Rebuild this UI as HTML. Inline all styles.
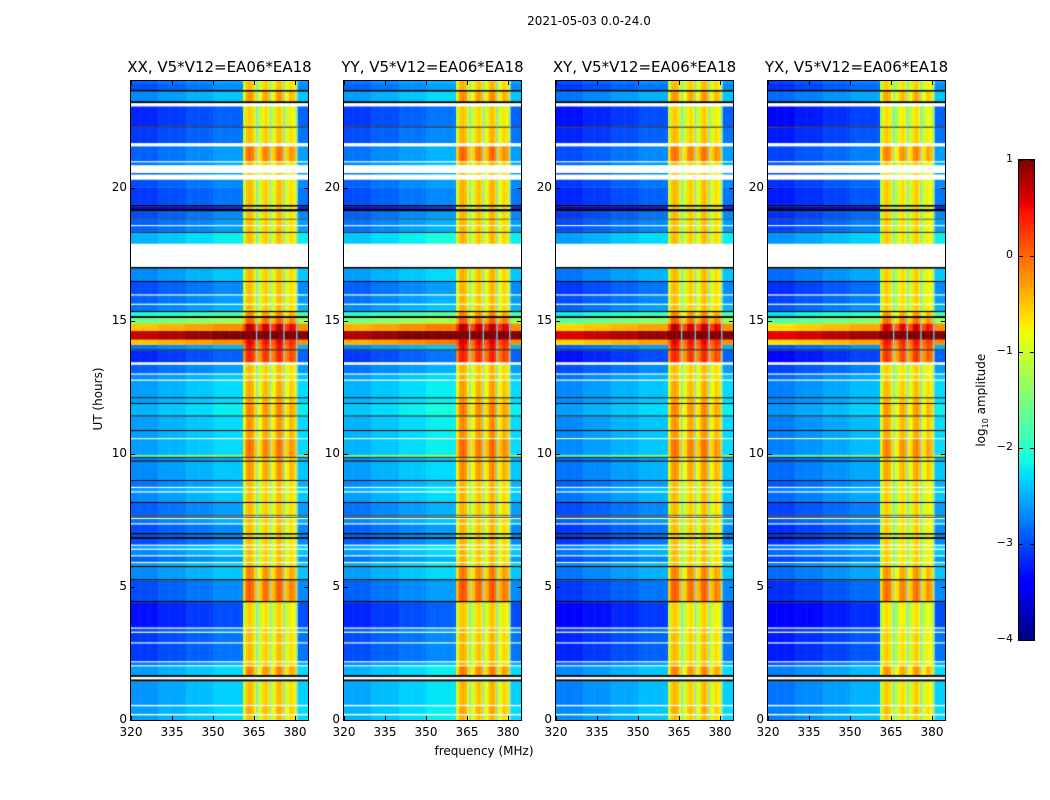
<!DOCTYPE html>
<html><head><meta charset="utf-8">
<style>
body{margin:0;background:#fff;font-family:"DejaVu Sans","Liberation Sans",sans-serif;}
#root{position:relative;width:1050px;height:800px;overflow:hidden;background:#fff;}
.t{position:absolute;font-size:12px;color:#000;white-space:nowrap;}
canvas{position:absolute;}
.frame{position:absolute;border:1px solid #000;box-sizing:border-box;}
</style></head><body>
<div id="root">
<div class="t" style="left:489px;top:14px;width:200px;text-align:center;font-size:12px;">2021-05-03 0.0-24.0</div>
<div class="t" style="left:384px;top:744px;width:200px;text-align:center;">frequency (MHz)</div>
<div class="t" style="left:48px;top:392px;width:100px;text-align:center;transform:rotate(-90deg);">UT (hours)</div>
<canvas id="cbar" width="15" height="480" style="left:1019px;top:160px;"></canvas>
<div class="frame" style="left:1018px;top:159px;width:17px;height:482px;"></div>
<div class="t" style="left:922px;top:392px;width:120px;text-align:center;transform:rotate(-90deg);">log<sub style="font-size:8px">10</sub> amplitude</div>
</div>
<script>
// ---- data ----
const panelNames = ["XX","YY","XY","YX"];
const panelContOffset = [-0.1, 0, -0.2, -0.25];
const panelRfiOffset = [0, 0.05, 0, -0.1];
const xTicks = [320,335,350,365,380];
const yTicks = [0,5,10,15,20];
const cbTicks = [1,0,-1,-2,-3,-4];
// continuum spectral shape for channels 320..360
const contShape = [-0.2,-0.2,-0.2,-0.2,-0.2,-0.2,-0.2,-0.2,-0.2,-0.2,
 -0.1,-0.1,-0.1,-0.1,-0.1,-0.1,-0.1,-0.1,-0.1,-0.1,
 0,0,0,0,0,0,0,0,0,0,
 0.1,0.1,0.1,0.1,0.1,0.1,0.1,0.1,0.1,0.1,0.1];
// RFI band channels 361..380 absolute log amplitude
const rfiBase = [-1.0,-0.5,-0.4,-0.5,-0.9,-1.1,-1.0,-0.6,-0.5,-0.7,-1.0,-0.9,-0.5,-0.4,-0.6,-1.0,-0.9,-0.6,-0.7,-0.9];
// high edge channels 381..384
const edgeBase = [-3.1,-3.1,-3.2,-3.2];
const flagFreqs = [366,371,376,380.7];
// time segments (hours)
const segStart = [
 0,0.18,0.24,0.52,0.58,1.45,1.53,1.62,1.70,2.02,
 2.07,2.17,2.22,2.88,2.93,3.28,3.33,3.44,3.49,4.42,
 4.48,5.24,5.30,5.74,5.80,5.90,5.95,6.15,6.20,6.40,
 6.45,6.55,6.60,6.80,6.88,6.96,7.03,7.35,7.40,7.55,
 7.60,7.64,7.68,7.72,8.15,8.20,8.55,8.60,8.72,8.77,
 8.98,9.03,9.70,9.76,9.85,9.90,9.97,10.55,10.60,10.85,
 10.90,11.40,11.45,11.87,11.92,12.08,12.13,12.75,12.80,12.98,
 13.03,13.35,13.45,13.88,13.93,14.10,14.30,14.62,14.90,15.10,
 15.18,15.32,15.38,15.60,15.65,15.95,16.00,16.45,16.50,16.95,
 17.02,17.90,18.30,18.35,18.55,18.60,18.80,18.84,19.10,19.20,
 19.28,19.36,20.00,20.30,20.50,20.55,20.85,20.95,21.00,21.55,
 21.68,22.25,22.30,23.05,23.17,23.25,23.60,23.67,23.90];
const segEnd = segStart.slice(1).concat([24]);
const segKind = [
 'c','w','c','w','c','k','w','k','c','w',
 'c','w','c','w','c','w','c','w','c','k',
 'c','k','c','k','c','w','c','w','c','w',
 'c','w','c','k','c','k','c','w','c','w',
 'k','c','k','c','k','c','w','c','w','c',
 'k','c','k','c','k','c','c','w','c','k',
 'c','k','c','k','c','k','c','w','c','w',
 'c','w','c','k','c','c','c','c','c','k',
 'c','k','c','w','c','w','c','k','c','k',
 'w','c','k','c','w','c','k','c','k','c',
 'k','c','c','w','c','w','c','w','c','w',
 'c','k','c','w','k','c','k','c','c'];
const segCont = [
 -2.3,0,-2.3,0,-2.35,0,0,0,-2.3,0,
 -2.5,0,-2.8,0,-2.8,0,-2.7,0,-3.0,0,
 -2.7,0,-2.4,0,-2.3,0,-2.6,0,-2.4,0,
 -2.3,0,-2.7,0,-2.7,0,-2.7,0,-2.5,0,
 0,-2.6,0,-2.6,0,-2.4,0,-2.3,0,-2.5,
 0,-2.4,0,-2.5,0,-1.4,-2.3,0,-2.3,0,
 -2.3,0,-2.2,0,-2.3,0,-2.3,0,-2.4,0,
 -2.6,0,-2.9,0,-2.5,-0.2,1.0,-0.2,-1.3,0,
 -1.8,0,-2.5,0,-2.6,0,-2.7,0,-2.4,0,
 0,-2.2,0,-2.6,0,-2.6,0,-2.7,0,-3.2,
 0,-2.8,-2.7,0,-2.6,0,-2.5,0,-2.6,0,
 -2.8,0,-2.9,0,0,-2.4,0,-2.7,-2.6];
const segRfi = [
 0,0,0.1,0,0,0,0,0,0.3,0,
 0,0,0,0,0,0,0,0,-0.1,0,
 0.5,0,0.3,0,0,0,0,0,0,0,
 0,0,0,0,0,0,0,0,0,0,
 0,0,0,0,0,0,0,0,0,0,
 0,0.2,0,0.2,0,0.4,0.4,0,0.2,0,
 0.2,0,0.3,0,0.2,0,0.1,0,0,0,
 0,0,0.8,0,0.9,1.0,2.0,1.2,0.5,0,
 0.3,0,0,0,0,0,0,0,0,0,
 0,0,0,0,0,0,0,0,0,0,
 0,0,0,0,0,0,0,0,0.4,0,
 0,0,-0.1,0,0,0.2,0,0,0];

// ---- helpers ----
const root = document.getElementById('root');
function interp(pts, x){for(let i=1;i<pts.length;i++){if(x<=pts[i][0]){const a=pts[i-1],b=pts[i];return a[1]+(b[1]-a[1])*(x-a[0])/(b[0]-a[0]);}}return pts[pts.length-1][1];}
function jet(v){let t=(v+4)/5;t=Math.max(0,Math.min(1,t));
 const r=interp([[0,0],[0.35,0],[0.66,1],[0.89,1],[1,0.5]],t);
 const g=interp([[0,0],[0.125,0],[0.375,1],[0.64,1],[0.91,0],[1,0]],t);
 const b=interp([[0,0.5],[0.11,1],[0.34,1],[0.65,0],[1,0]],t);
 return `rgb(${Math.round(r*255)},${Math.round(g*255)},${Math.round(b*255)})`;}
const L=[131,344,556,768], T=81, W=177, H=639, FMAX=384.8;
const xs=f=>(f-320)*W/(FMAX-320);
const ys=h=>H-h*H/24;
function chanValue(ch, s, p){
 const c=segCont[s];
 if(ch<=360) return c+contShape[ch-320]+panelContOffset[p];
 if(ch<=380) return Math.max(rfiBase[ch-361]+segRfi[s]+panelRfiOffset[p], c);
 return Math.max(edgeBase[ch-381]+(c+2.5)*0.3, c);
}
function addText(txt,x,y,name,align,size){
 const d=document.createElement('div');d.className='t';d.textContent=txt;
 
 
 d.style.fontSize=(size||12)+'px';
 if(align==='c'){d.style.left=(x-150)+'px';d.style.width='300px';d.style.textAlign='center';}
 else if(align==='r'){d.style.left=(x-60)+'px';d.style.width='60px';d.style.textAlign='right';}
 else d.style.left=x+'px';
 d.style.top=y+'px';root.appendChild(d);}
function tick(x,y,w,h,name){const d=document.createElement('div');d.style.cssText=`position:absolute;left:${x}px;top:${y}px;width:${w}px;height:${h}px;background:#000`;
 
 
 root.appendChild(d);}

// ---- panels ----
panelNames.forEach((pn,p)=>{
 const cv=document.createElement('canvas');cv.width=W;cv.height=H;
 cv.style.left=L[p]+'px';cv.style.top=T+'px';
 
 
 root.appendChild(cv);
 const g=cv.getContext('2d');g.fillStyle='#fff';g.fillRect(0,0,W,H);
 for(let s=0;s<segStart.length;s++){
  const y0=ys(segEnd[s]), y1=ys(segStart[s]), kind=segKind[s];
  if(kind==='w'){g.fillStyle='#fff';g.fillRect(0,y0,W,y1-y0);continue;}
  if(kind==='k'){g.fillStyle='#000';g.fillRect(0,y0,W,Math.max(1,y1-y0));continue;}
  for(let ch=320;ch<=384;ch++){
   g.fillStyle=jet(chanValue(ch,s,p));
   const x0=xs(ch), x1=Math.min(W,xs(ch+1));
   g.fillRect(x0,y0,x1-x0+0.5,y1-y0+0.3);
  }
 }
 flagFreqs.forEach(f=>{
  for(let s=0;s<segStart.length;s++){ if(segKind[s]!=='c')continue;
   g.fillStyle='rgba(120,220,255,0.9)';
   const y0=ys(segEnd[s]),y1=ys(segStart[s]);
   g.fillRect(xs(f)-0.7,y0,1.4,y1-y0);}
 });
 const fr=document.createElement('div');fr.className='frame';
 fr.style.cssText=`left:${L[p]-1}px;top:${T-1}px;width:${W+2}px;height:${H+2}px;`;
 
 
 root.appendChild(fr);
 addText(pn+', V5*V12=EA06*EA18', L[p]+W/2, 58, 'panel-title-'+pn.toLowerCase(), 'c', 15);
 xTicks.forEach(v=>{const x=Math.round(L[p]+xs(v));
  tick(x,T+H-4,1,4,'x-tick');tick(x,T,1,4,'x-tick');
  addText(String(v),x,725,'x-tick-label','c',12);});
 yTicks.forEach(v=>{const y=Math.round(T+ys(v));
  tick(L[p],y,4,1,'y-tick');tick(L[p]+W-4,y,4,1,'y-tick');
  addText(String(v),L[p]-4,y-8,'y-tick-label','r',12);});
});

// ---- colorbar ----
const cb=document.getElementById('cbar').getContext('2d');
for(let i=0;i<480;i++){cb.fillStyle=jet(1-5*i/479);cb.fillRect(0,i,15,1);}
cbTicks.forEach(v=>{const y=160+(1-v)*96;
 tick(1019,Math.round(y),4,1,'colorbar-tick');tick(1030,Math.round(y),4,1,'colorbar-tick');
 addText(v<0?'\u2212'+(-v):String(v),1013,y-8,'colorbar-tick-label','r',11);});
</script>
</body></html>
